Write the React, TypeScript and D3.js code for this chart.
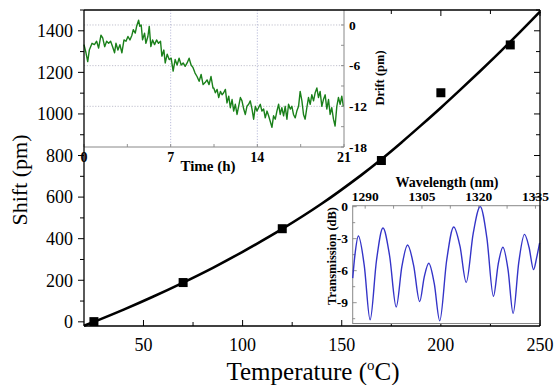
import React from 'react';
import * as d3 from 'd3';

// Main plot data
const tempPoints = [25, 70, 120, 170, 200, 235];
const shiftPoints = [1, 189, 448, 776, 1102, 1332];
const fitTemps = [20, 25, 40, 55, 70, 85, 100, 120, 140, 160, 170, 180, 190, 200, 210, 220, 230, 240, 250];
const fitShift = [-19, 0, 59, 122, 189, 260, 337, 447, 569, 707, 782, 862, 945, 1030, 1118, 1208, 1300, 1395, 1492];
const xTickLabels = [50, 100, 150, 200, 250];
const yTickLabels = [0, 200, 400, 600, 800, 1000, 1200, 1400];

// Drift inset data
const driftHours = [
  0.00, 0.16, 0.30, 0.43, 0.65, 0.84, 1.02, 1.18, 1.37, 1.51, 1.67, 1.83, 1.99, 2.15, 2.31, 2.47, 2.58, 2.74, 2.90, 3.06,
  3.23, 3.39, 3.55, 3.71, 3.87, 3.98, 4.14, 4.25, 4.41, 4.51, 4.62, 4.73, 4.89, 5.00, 5.16, 5.27, 5.40, 5.54, 5.70, 5.86,
  6.02, 6.18, 6.29, 6.45, 6.56, 6.72, 6.88, 7.04, 7.20, 7.36, 7.52, 7.68, 7.85, 8.01, 8.17, 8.33, 8.49, 8.65, 8.81, 8.97,
  9.13, 9.30, 9.46, 9.62, 9.78, 9.94, 10.10, 10.26, 10.42,
  10.48, 10.61, 10.75, 10.88, 11.02, 11.15, 11.28, 11.42, 11.55, 11.69, 11.82, 11.96, 12.09, 12.22, 12.36, 12.49, 12.63,
  12.76, 12.90, 13.03, 13.16, 13.30, 13.43, 13.57, 13.70, 13.84, 13.97, 14.10, 14.24, 14.37, 14.51, 14.64, 14.78, 14.91,
  15.04, 15.18, 15.31, 15.45, 15.58, 15.72, 15.85, 15.98, 16.12, 16.25, 16.39, 16.52, 16.66, 16.79, 16.92, 17.06, 17.19,
  17.33, 17.46, 17.60, 17.73, 17.86, 18.00, 18.13, 18.27, 18.40, 18.54, 18.67, 18.81, 18.94, 19.07, 19.21, 19.34, 19.48,
  19.61, 19.75, 19.88, 20.01, 20.15, 20.28, 20.42, 20.55, 20.69, 20.82, 20.95,
];
const driftValues = [
  -2.9, -4.1, -5.4, -3.7, -2.7, -2.9, -2.4, -3.4, -1.5, -1.9, -3.2, -2.4, -2.7, -2.4, -3.2, -4.1, -2.7, -3.7, -2.9, -4.1,
  -2.2, -2.4, -1.7, -2.2, -1.5, -0.7, -1.2, -0.2, 0.7, -0.2, 0.0, -2.2, -1.2, -2.7, -1.7, -0.2, -3.2, -2.2, -2.9, -2.2,
  -2.7, -2.4, -4.6, -3.7, -5.6, -4.3, -5.1, -4.9, -6.8, -5.1, -5.9, -4.9, -5.9, -5.6, -6.1, -5.6, -4.9, -5.9, -6.3, -7.1,
  -7.6, -8.3, -7.3, -8.8, -8.5, -8.1, -8.8, -7.6, -9.3,
  -9.3, -10.0, -9.5, -10.7, -9.8, -10.3, -10.0, -9.5, -11.5, -10.5, -12.2, -11.0, -12.7, -11.7, -13.2, -12.0, -10.7,
  -11.2, -12.4, -13.2, -12.0, -11.7, -11.2, -12.4, -13.9, -12.0, -12.7, -12.2, -11.7, -12.7, -12.4, -13.7, -12.7, -13.4,
  -14.2, -15.1, -13.4, -13.9, -12.7, -11.7, -13.2, -12.2, -13.4, -12.0, -13.9, -11.7, -12.4, -12.0, -13.2, -13.7, -12.7,
  -12.0, -9.8, -11.2, -13.2, -13.9, -12.2, -10.7, -11.7, -10.3, -11.2, -10.0, -9.3, -10.7, -9.8, -12.0, -11.0, -10.3,
  -12.4, -11.0, -13.2, -12.2, -13.9, -14.9, -12.0, -10.7, -11.7, -10.5, -12.0,
];
const driftXTicks = [0, 7, 14, 21];
const driftYTicks = [0, -6, -12, -18];

// Transmission inset data
const wavelengths = [
  1286.7, 1287.3, 1288.2, 1289.75, 1291.3, 1293.0, 1294.7, 1296.45, 1298.2, 1299.7, 1301.2, 1302.8, 1304.4, 1305.6,
  1306.8, 1308.25, 1309.7, 1311.55, 1313.4, 1315.05, 1316.7, 1318.55, 1320.4, 1322.15, 1323.9, 1325.15, 1326.4,
  1327.75, 1329.1, 1330.6, 1332.1, 1333.3, 1334.5, 1335.3, 1336.1,
];
const transmission = [
  -6.7, -4.5, -2.75, -5.5, -10.6, -5.0, -2.0, -4.6, -9.4, -5.6, -3.6, -5.5, -8.9, -6.6,
  -5.3, -7.2, -10.7, -5.0, -1.9, -3.7, -7.1, -2.5, 0.0, -2.9, -8.4, -5.4, -3.8,
  -5.9, -10.0, -5.2, -2.6, -3.8, -5.9, -4.8, -3.4,
];
const wlTicks = [1290, 1305, 1320, 1335];
const dbTicks = [0, -3, -6, -9];

const SERIF = "'Liberation Serif', 'Times New Roman', 'DejaVu Serif', serif";
const serif = { fontFamily: SERIF };

export default function App() {
  // main plot
  const L = 84, R = 540, T = 10, B = 326;
  const x = d3.scaleLinear().domain([20, 250]).range([L, R]);
  const y = d3.scaleLinear().domain([-20, 1500]).range([B, T]);

  const fitLine = d3.line<number>()
    .x((_, i) => x(fitTemps[i]))
    .y((d) => y(d))
    .curve(d3.curveCatmullRom)(fitShift) || '';

  // drift inset
  const dL = 84, dR = 344, dT = 10, dB = 147;
  const dx = d3.scaleLinear().domain([0, 21]).range([dL, dR]);
  const dy = d3.scaleLinear().domain([-18, 2.21]).range([dB, dT]);
  const driftLine = d3.line<number>()
    .x((_, i) => dx(driftHours[i]))
    .y((d) => dy(d))(driftValues) || '';

  // transmission inset
  const tL = 352.7, tR = 540, tT = 205.7, tB = 323.5;
  const tx = d3.scaleLinear().domain([1286.7, 1336.2]).range([tL, tR]);
  const ty = d3.scaleLinear().domain([-10.95, 0.09]).range([tB, tT]);
  const transLine = d3.line<number>()
    .x((_, i) => tx(wavelengths[i]))
    .y((d) => ty(d))
    .curve(d3.curveMonotoneX)(transmission) || '';

  const xMinor = d3.range(25, 251, 25);
  const yMinor = d3.range(0, 1501, 100);

  return (
    <svg width={555} height={385} style={{ position: 'absolute', left: 0, top: 0, background: '#fff', fontFamily: SERIF }}>
      <rect x={0} y={0} width={555} height={385} fill="#fff" />

      {/* main ticks */}
      {xMinor.map((v) => {
        const major = v % 50 === 0;
        const len = major ? 6 : 4;
        return (
          <g key={'xt' + v}>
            <line x1={x(v)} x2={x(v)} y1={B} y2={B - len} stroke="#000" strokeWidth={1} />
            <line x1={x(v)} x2={x(v)} y1={T} y2={T + len} stroke="#000" strokeWidth={1} />
          </g>
        );
      })}
      {yMinor.map((v) => {
        const major = v % 200 === 0;
        const len = major ? 6 : 4;
        return (
          <g key={'yt' + v}>
            <line x1={L} x2={L - len} y1={y(v)} y2={y(v)} stroke="#000" strokeWidth={1} />
            <line x1={R} x2={R - len} y1={y(v)} y2={y(v)} stroke="#000" strokeWidth={1} />
          </g>
        );
      })}

      {/* fit curve and points */}
      <path d={fitLine} fill="none" stroke="#000" strokeWidth={2.6} />
      {tempPoints.map((t, i) => (
        <rect key={'p' + i} x={x(t) - 4.5} y={y(shiftPoints[i]) - 4.5} width={9} height={9} fill="#000" />
      ))}

      {/* main tick labels */}
      {xTickLabels.map((v) => (
        <text key={'xl' + v} style={serif} x={x(v)} y={351} fontSize={18} textAnchor="middle" fill="#000">{v}</text>
      ))}
      {yTickLabels.map((v) => (
        <text key={'yl' + v} style={serif} x={73} y={y(v)} dy="0.35em" fontSize={18} textAnchor="end" fill="#000">{v}</text>
      ))}

      {/* main axis titles */}
      <text style={serif} x={313} y={380} fontSize={25} textAnchor="middle" fill="#000">
        Temperature (<tspan fontSize={15} dy={-10}>o</tspan><tspan dy={10}>C)</tspan>
      </text>
      <text style={serif} transform="translate(27,180) rotate(-90)" fontSize={22} textAnchor="middle" fill="#000">Shift (pm)</text>

      {/* drift inset */}
      <rect x={dL} y={dT} width={dR - dL} height={dB - dT} fill="#fff" stroke="none" />
      {driftXTicks.slice(1, 3).map((v) => (
        <line key={'dg' + v} x1={dx(v)} x2={dx(v)} y1={dT} y2={dB} stroke="#a8acd0" strokeWidth={0.8} strokeDasharray="1.2,1.6" />
      ))}
      {driftYTicks.slice(0, 3).map((v) => (
        <line key={'dgy' + v} x1={dL} x2={dR} y1={dy(v)} y2={dy(v)} stroke="#b0b0c0" strokeWidth={0.8} strokeDasharray="1.2,1.6" />
      ))}
      {d3.range(0, 21.01, 3.5).map((v) => (
        <line key={'dxt' + v} x1={dx(v)} x2={dx(v)} y1={dB} y2={dB - 3} stroke="#777" strokeWidth={0.8} />
      ))}
      {d3.range(-18, 0.01, 3).map((v) => (
        <line key={'dyt' + v} x1={dR} x2={dR - 3} y1={dy(v)} y2={dy(v)} stroke="#777" strokeWidth={0.8} />
      ))}
      <path d={driftLine} fill="none" stroke="#1a801a" strokeWidth={1.4} strokeLinejoin="round" />
      <line x1={dL} x2={dR} y1={dB} y2={dB} stroke="#888" strokeWidth={1} />
      <line x1={dR} x2={dR} y1={dT} y2={dB} stroke="#888" strokeWidth={1} />
      {driftXTicks.map((v) => (
        <text key={'dxl' + v} style={serif} x={dx(v)} y={157} dy="0.35em" fontSize={14} fontWeight="bold" textAnchor="middle" fill="#000">{v}</text>
      ))}
      {driftYTicks.map((v) => (
        <text key={'dyl' + v} style={serif} x={349} y={dy(v)} dy="0.35em" fontSize={13.5} fontWeight="bold" textAnchor="start" fill="#000">{v}</text>
      ))}
      <text style={serif} x={208} y={171} fontSize={15} fontWeight="bold" textAnchor="middle" fill="#000">Time (h)</text>
      <text style={serif} transform="translate(384,78) rotate(-90)" fontSize={12.5} fontWeight="bold" textAnchor="middle" fill="#000">Drift (pm)</text>

      {/* transmission inset */}
      <rect x={tL} y={tT} width={tR - tL} height={tB - tT} fill="#fff" stroke="#888" strokeWidth={1} />
      {d3.range(1290, 1336, 7.5).map((v) => (
        <line key={'twt' + v} x1={tx(v)} x2={tx(v)} y1={tT} y2={tT + 3} stroke="#777" strokeWidth={0.8} />
      ))}
      {d3.range(-10.5, 0.01, 1.5).map((v) => (
        <line key={'tdt' + v} x1={tL} x2={tL + (v % 3 === 0 ? 4 : 2.5)} y1={ty(v)} y2={ty(v)} stroke="#777" strokeWidth={0.8} />
      ))}
      <path d={transLine} fill="none" stroke="#3434c8" strokeWidth={1.4} />
      {wlTicks.map((v) => (
        <text key={'twl' + v} style={serif} x={tx(v)} y={201} fontSize={13.5} fontWeight="bold" textAnchor="middle" fill="#000">{v}</text>
      ))}
      {dbTicks.map((v) => (
        <text key={'tdl' + v} style={serif} x={348} y={ty(v)} dy="0.35em" fontSize={13.5} fontWeight="bold" textAnchor="end" fill="#000">{v}</text>
      ))}
      <text style={serif} x={447} y={186.5} fontSize={14} fontWeight="bold" textAnchor="middle" fill="#000">Wavelength (nm)</text>
      <text style={serif} transform="translate(336,256) rotate(-90)" fontSize={12.5} fontWeight="bold" textAnchor="middle" fill="#000">Transmission (dB)</text>

      {/* main frame */}
      <line x1={L} x2={R} y1={T} y2={T} stroke="#000" strokeWidth={1.3} />
      <line x1={L} x2={R} y1={B} y2={B} stroke="#000" strokeWidth={1.3} />
      <line x1={L} x2={L} y1={T} y2={B} stroke="#000" strokeWidth={1.3} />
      <line x1={R} x2={R} y1={T} y2={B} stroke="#000" strokeWidth={1.3} />
    </svg>
  );
}
